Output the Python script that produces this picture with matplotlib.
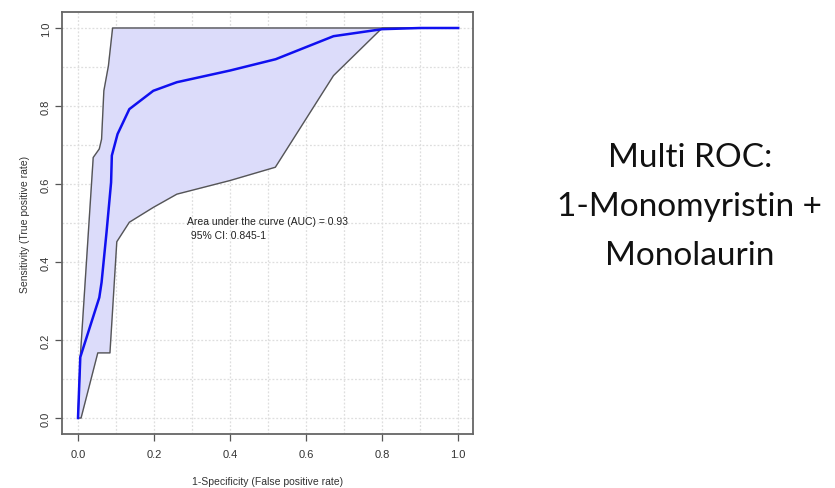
import numpy as np
import matplotlib.pyplot as plt

# mean ROC curve
fpr = [0.0, 0.006, 0.056, 0.062, 0.075, 0.087, 0.089, 0.104, 0.135, 0.198,
       0.26, 0.40, 0.52, 0.672, 0.80, 0.90, 1.0]
tpr = [0.0, 0.156, 0.309, 0.348, 0.476, 0.604, 0.673, 0.728, 0.792, 0.839,
       0.861, 0.891, 0.92, 0.979, 0.997, 1.0, 1.0]

# confidence band
ci_up_x = [0.0, 0.006, 0.040, 0.056, 0.062, 0.068, 0.080, 0.091, 1.0]
ci_up_y = [0.0, 0.156, 0.668, 0.690, 0.715, 0.839, 0.903, 1.0, 1.0]
ci_lo_x = [0.0, 0.008, 0.052, 0.084, 0.102, 0.135, 0.198, 0.26, 0.40,
           0.519, 0.672, 0.80, 1.0]
ci_lo_y = [0.0, 0.0, 0.167, 0.167, 0.452, 0.502, 0.54, 0.574, 0.609,
           0.643, 0.878, 1.0, 1.0]

ticks = [0.0, 0.2, 0.4, 0.6, 0.8, 1.0]
tick_labels = ['0.0', '0.2', '0.4', '0.6', '0.8', '1.0']

plt.rcParams['font.family'] = ['Liberation Sans', 'DejaVu Sans']

fig = plt.figure(figsize=(8.35, 4.89), dpi=100)
ax = fig.add_axes([0.0743, 0.1104, 0.4922, 0.863])

# dotted grid every 0.1
for g in np.arange(0, 1.01, 0.1):
    ax.axhline(g, color='#dedede', lw=0.9, ls=(0, (1.5, 1.5)), zorder=0)
    ax.axvline(g, color='#dedede', lw=0.9, ls=(0, (1.5, 1.5)), zorder=0)

poly_x = ci_up_x + ci_lo_x[::-1]
poly_y = ci_up_y + ci_lo_y[::-1]
ax.fill(poly_x, poly_y, color='#dcdcfa', zorder=1)
ax.plot(ci_up_x, ci_up_y, color='#555555', lw=1.0, zorder=2)
ax.plot(ci_lo_x, ci_lo_y, color='#555555', lw=1.0, zorder=2)
ax.plot(fpr, tpr, color='#1010f0', lw=1.8, zorder=3)

ax.text(0.287, 0.505, 'Area under the curve (AUC) = 0.93', fontsize=7.5,
        va='center', ha='left', color='#222222')
ax.text(0.29, 0.469, ' 95% CI: 0.845-1', fontsize=7.5,
        va='center', ha='left', color='#222222')

ax.set_xlim(-0.042, 1.039)
ax.set_ylim(-0.041, 1.041)
ax.set_xticks(ticks)
ax.set_xticklabels(tick_labels)
ax.set_yticks(ticks)
ax.set_yticklabels(tick_labels, rotation=90, va='center')
ax.tick_params(direction='out', length=5, width=0.9, colors='#555555',
               labelsize=8, labelcolor='#333333')
ax.tick_params(axis='x', pad=6)
ax.tick_params(axis='y', pad=3)
for s in ax.spines.values():
    s.set_color('#666666')
    s.set_linewidth(1.3)

ax.set_xlabel('1-Specificity (False positive rate)', fontsize=7.5,
              color='#333333', labelpad=12)
ax.set_ylabel('Sensitivity (True positive rate)', fontsize=7.5,
              color='#333333', labelpad=8)

fig.text(0.826, 0.577, 'Multi ROC:\n1-Monomyristin +\nMonolaurin',
         fontsize=24, ha='center', va='center', family=['Lato', 'DejaVu Sans'],
         color='#111111', linespacing=1.8)

fig.savefig('out.png', dpi=100, facecolor='white')
